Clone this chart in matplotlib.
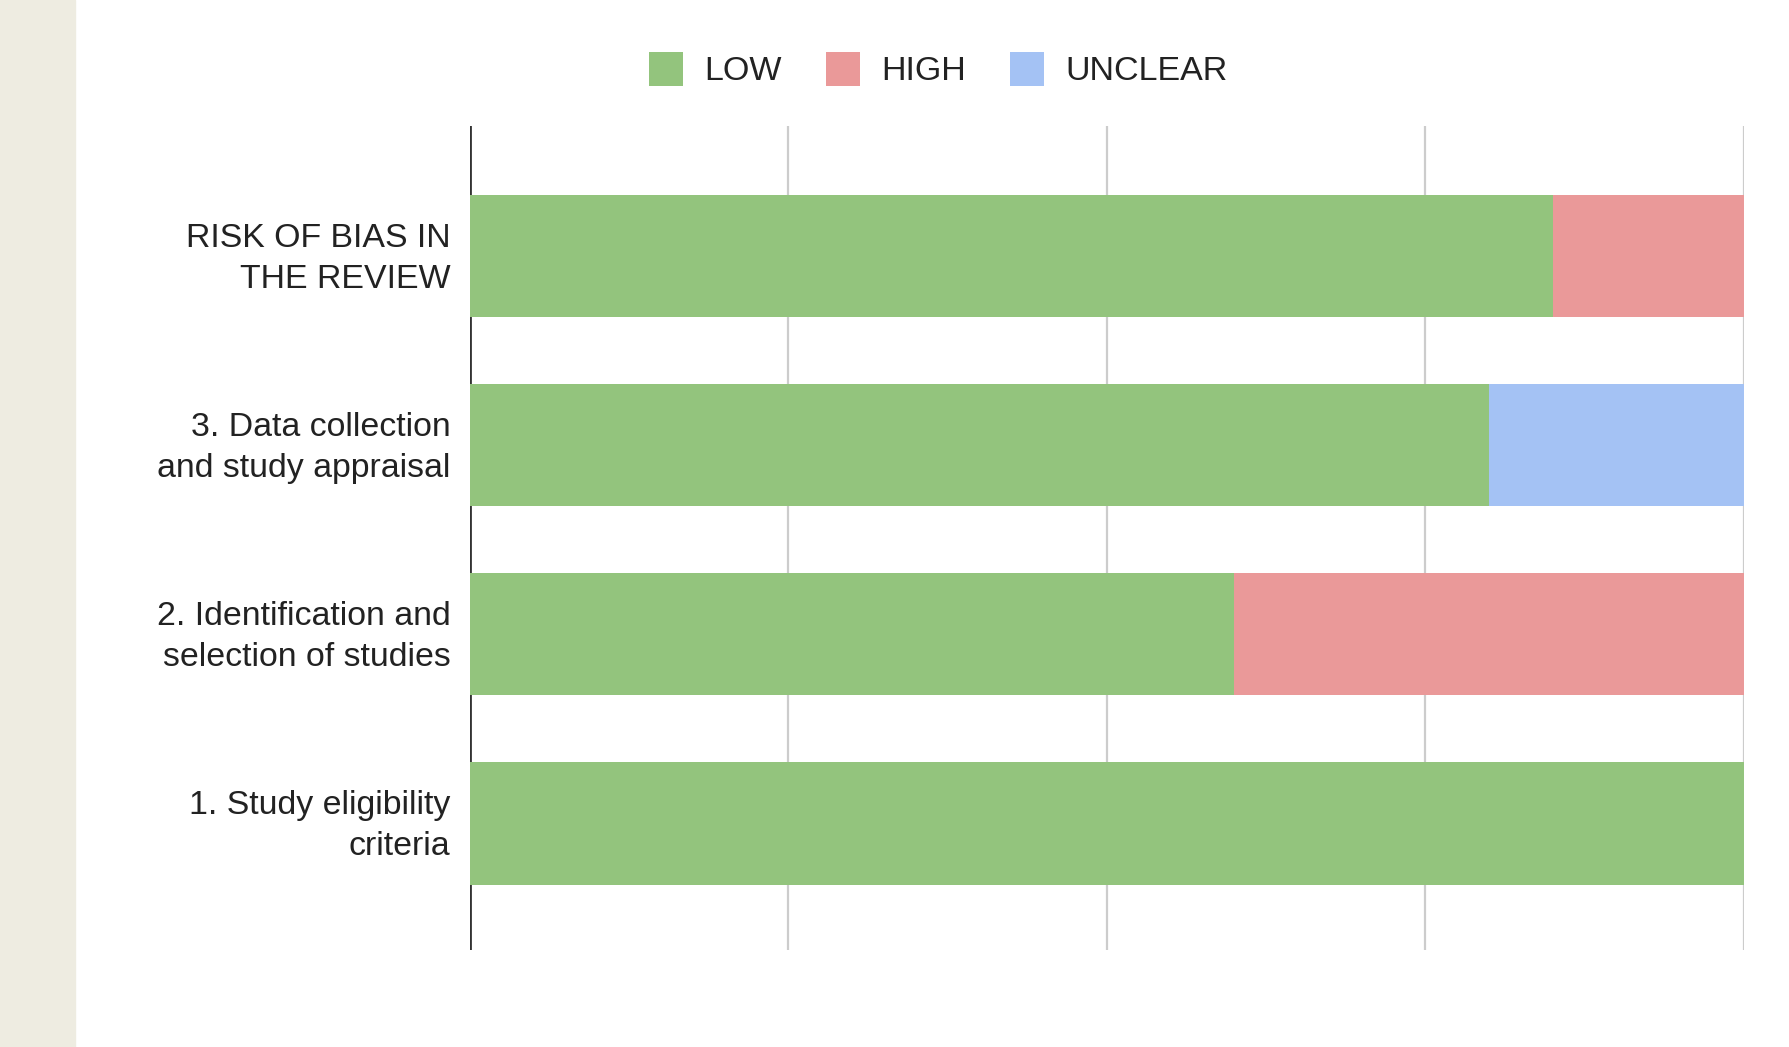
import matplotlib.pyplot as plt
from matplotlib.patches import Rectangle, Patch
from matplotlib.transforms import ScaledTranslation

plt.rcParams['font.family'] = ['Liberation Sans', 'DejaVu Sans']

categories = ["RISK OF BIAS IN\nTHE REVIEW",
              "3. Data collection\nand study appraisal",
              "2. Identification and\nselection of studies",
              "1. Study eligibility\ncriteria"]
low = [85, 80, 60, 100]
high = [15, 0, 40, 0]
unclear = [0, 20, 0, 0]
series_names = ["LOW", "HIGH", "UNCLEAR"]
colors = ["#93C47D", "#EA9999", "#A4C2F4"]

fig = plt.figure(figsize=(17.9, 10.47), dpi=100)
fig.patches.append(Rectangle((0, 0), 75 / 1790, 1, transform=fig.transFigure,
                             color="#EEECE1", zorder=0))
ax = fig.add_axes([470 / 1790, 97 / 1047, 1274 / 1790, 824.4 / 1047])

pos = list(range(len(categories)))
h = 0.648
left = [0] * len(categories)
for vals, col in zip([low, high, unclear], colors):
    ax.barh(pos, vals, height=h, left=left, color=col, zorder=3, linewidth=0)
    left = [a + b for a, b in zip(left, vals)]

ax.set_xlim(0, 100)
ax.set_ylim(3.67, -0.69)
for x in [25, 50, 75, 100]:
    ax.axvline(x, color="#CCCCCC", lw=1.6, zorder=1)
ax.axvline(0, color="#333333", lw=2.0, zorder=2)

ax.set_xticks([])
ax.set_yticks(pos)
ax.set_yticklabels(categories, fontsize=24.4, color="#222222", linespacing=1.42)
ax.tick_params(axis='y', length=0, pad=14)
shift = ScaledTranslation(0, 0.057, fig.dpi_scale_trans)
for lab in ax.get_yticklabels():
    lab.set_transform(lab.get_transform() + shift)
for s in ax.spines.values():
    s.set_visible(False)

handles = [Patch(facecolor=c, edgecolor='none') for c in colors]
fig.legend(handles, series_names, loc='center', bbox_to_anchor=(0.524, 1 - 69.6 / 1047),
           ncol=3, frameon=False, fontsize=24.5, handlelength=1.02, handleheight=1.17,
           handletextpad=0.6, columnspacing=1.3, labelcolor="#222222")

fig.savefig("out.png", dpi=100)
